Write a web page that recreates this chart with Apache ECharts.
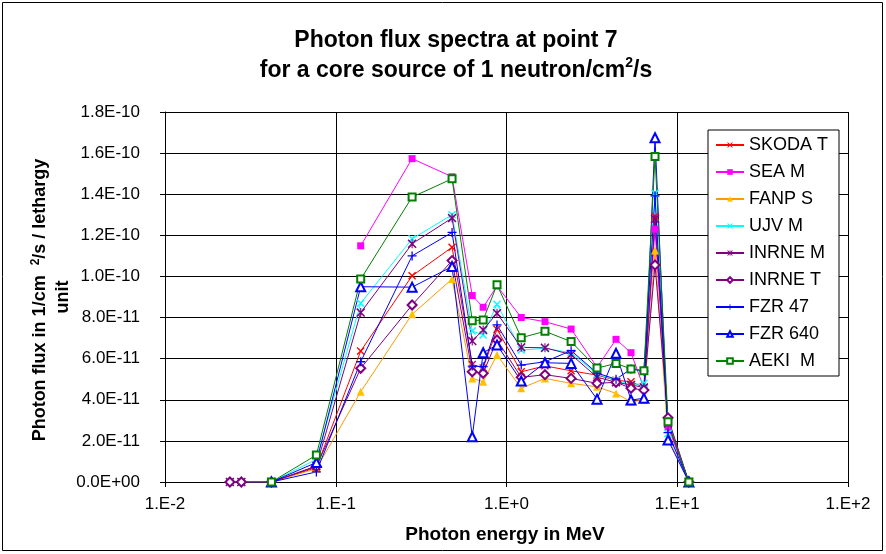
<!DOCTYPE html>
<html>
<head>
<meta charset="utf-8">
<script src="https://cdn.jsdelivr.net/npm/echarts@6/dist/echarts.min.js"></script>
<style>
  html, body { margin: 0; padding: 0; background: #fff; }
  #chart { width: 886px; height: 554px; }
</style>
</head>
<body>
<div id="chart"></div>
<script>
// photon energy (MeV) of each group point
const energy = [0.024, 0.028, 0.042, 0.077, 0.14, 0.28, 0.48, 0.63, 0.73, 0.88, 1.22, 1.68, 2.39, 3.39, 4.38, 5.36, 6.38, 7.41, 8.83, 11.7];
// flux values in units of 1e-11 (null = no point)
const skodaT = [null, null, 0, 0.7, 6.37, 10.03, 11.42, 5.72, 5.55, 7.43, 5.36, 5.65, 5.41, 5.2, 4.95, 4.88, 4.6, 12.92, 2.85, 0];
const seaM   = [null, null, null, null, 11.49, 15.73, 14.85, 9.07, 8.5, 9.54, 8.0, 7.8, 7.44, 5.58, 6.94, 6.29, 4.56, 12.3, 2.68, 0];
const fanpS  = [null, null, 0, 0.65, 4.39, 8.16, 9.87, 5.04, 4.88, 6.18, 4.56, 5.04, 4.8, 4.63, 4.31, 3.9, 3.99, 11.26, 2.12, 0];
const ujvM   = [0, 0, 0, 1.1, 8.7, 11.83, 13.0, 7.35, 7.15, 8.65, 6.42, 6.5, 6.29, 5.25, 4.95, 4.72, 4.8, 14.05, 2.36, 0];
const inrneM = [0, 0, 0, 0.78, 8.24, 11.59, 12.84, 6.86, 7.4, 8.21, 6.55, 6.53, 6.2, 5.1, 4.85, 4.72, 4.6, 12.79, 2.85, 0];
const inrneT = [0, 0, 0, 0.75, 5.53, 8.61, 10.77, 5.36, 5.29, 6.91, 5.09, 5.22, 5.04, 4.8, 4.85, 4.56, 4.47, 10.56, 3.12, 0];
const fzr47  = [null, null, 0, 0.49, 5.85, 11.0, 12.14, 5.64, 5.61, 7.64, 5.69, 5.85, 6.39, 5.3, 5.0, 5.5, 5.4, 13.92, 2.4, 0];
const fzr640 = [null, null, 0, 0.95, 9.5, 9.48, 10.48, 2.2, 6.29, 6.67, 4.91, 5.8, 5.77, 4.03, 6.26, 3.99, 4.07, 16.75, 2.04, 0];
const aekiM  = [null, null, 0, 1.31, 9.87, 13.86, 14.75, 7.85, 7.88, 9.6, 7.02, 7.33, 6.83, 5.54, 5.77, 5.5, 5.41, 15.84, 2.93, 0];
const UNIT = 1e-11;

const xTicks = ['1.E-2', '1.E-1', '1.E+0', '1.E+1', '1.E+2'];

// marker shapes
const xMark = 'path://M0,1.2L1.2,0L5,3.8L8.8,0L10,1.2L6.2,5L10,8.8L8.8,10L5,6.2L1.2,10L0,8.8L3.8,5Z';
const plusMark = 'path://M4.3,0H5.7V4.3H10V5.7H5.7V10H4.3V5.7H0V4.3H4.3Z';
const starMark = 'path://M0,1.2L1.2,0L4.4,3.2V0H5.6V3.2L8.8,0L10,1.2L6.2,5L10,8.8L8.8,10L5.6,6.8V10H4.4V6.8L1.2,10L0,8.8L3.8,5Z';

const seriesDefs = [
  { name: 'SKODA T', data: skodaT, color: '#FF0000', symbol: xMark, size: 8 },
  { name: 'SEA M', data: seaM, color: '#FF00FF', symbol: 'rect', size: 7 },
  { name: 'FANP S', data: fanpS, color: '#FF9900', fill: '#FFC000', symbol: 'triangle', size: 8 },
  { name: 'UJV M', data: ujvM, color: '#00FFFF', symbol: xMark, size: 8 },
  { name: 'INRNE M', data: inrneM, color: '#800080', symbol: starMark, size: 9 },
  { name: 'INRNE T', data: inrneT, color: '#800080', symbol: 'emptyDiamond', size: 9 },
  { name: 'FZR 47', data: fzr47, color: '#0000FF', symbol: plusMark, size: 9 },
  { name: 'FZR 640', data: fzr640, color: '#0000FF', symbol: 'emptyTriangle', size: 9 },
  { name: 'AEKI  M', data: aekiM, color: '#008000', symbol: 'emptyRect', size: 7 }
];

const series = seriesDefs.map(s => {
  const pts = [];
  s.data.forEach((v, i) => {
    if (v !== null) pts.push([energy[i], v * UNIT]);
  });
  return {
    name: s.name,
    type: 'line',
    data: pts,
    symbol: s.symbol,
    symbolSize: s.size,
    showAllSymbol: true,
    lineStyle: { color: s.color, width: 1 },
    itemStyle: { color: s.fill || s.color, borderColor: s.color, borderWidth: s.symbol.indexOf('empty') === 0 ? 1 : 0 },
    emphasis: { disabled: true }
  };
});

const chart = echarts.init(document.getElementById('chart'), null, { renderer: 'canvas' });
const font = 'Liberation Sans, Arial, sans-serif';

chart.setOption({
  animation: false,
  backgroundColor: '#fff',
  title: {
    text: '{t|Photon flux spectra at point 7}\n{t|for a core source of 1 neutron/cm}{s|2}{t|/s}',
    left: 451,
    top: 21,
    textAlign: 'center',
    textStyle: {
      rich: {
        t: { fontFamily: font, fontWeight: 'bold', fontSize: 23, color: '#000', lineHeight: 30 },
        s: { fontFamily: font, fontWeight: 'bold', fontSize: 14, color: '#000', verticalAlign: 'top', lineHeight: 30, padding: [0, 0, 10, 0] }
      }
    }
  },
  graphic: [
    {
      type: 'rect',
      shape: { x: 2.5, y: 2.5, width: 880, height: 548 },
      style: { fill: null, stroke: '#000', lineWidth: 1 },
      silent: true
    },
    {
      type: 'text',
      x: 40, y: 300,
      rotation: Math.PI / 2,
      style: {
        text: '{t|Photon flux in 1/cm  }{s|2}{t|/s / lethargy}',
        align: 'center', verticalAlign: 'middle',
        rich: {
          t: { fontFamily: font, fontWeight: 'bold', fontSize: 18, fill: '#000' },
          s: { fontFamily: font, fontWeight: 'bold', fontSize: 12, fill: '#000', padding: [0, 0, 8, 0] }
        }
      }
    },
    {
      type: 'text',
      x: 63, y: 297,
      rotation: Math.PI / 2,
      style: {
        text: 'unit',
        align: 'center', verticalAlign: 'middle',
        font: 'bold 18px ' + font, fill: '#000'
      }
    },
    {
      type: 'text',
      x: 505, y: 535,
      style: {
        text: 'Photon energy in MeV',
        align: 'center', verticalAlign: 'middle',
        font: 'bold 19px ' + font, fill: '#000'
      }
    }
  ],
  legend: {
    orient: 'vertical',
    left: 708,
    top: 130,
    padding: [6, 11, 6, 7],
    itemGap: 9,
    itemWidth: 28,
    itemHeight: 7,
    backgroundColor: '#fff',
    borderColor: '#000',
    borderWidth: 1,
    borderRadius: 0,
    textStyle: { fontFamily: font, fontSize: 18, color: '#000', lineHeight: 18 },
    data: seriesDefs.map(s => s.name)
  },
  grid: { left: 165, right: 38, top: 112, bottom: 72, containLabel: false },
  xAxis: {
    type: 'log',
    logBase: 10,
    min: 0.01,
    max: 100,
    axisLine: { show: true, lineStyle: { color: '#000', width: 1 } },
    axisTick: { show: true, length: 5, lineStyle: { color: '#000' } },
    minorTick: { show: false },
    splitLine: { show: true, lineStyle: { color: '#000', width: 1 } },
    axisLabel: {
      margin: 14,
      fontFamily: font, fontSize: 17, color: '#000',
      formatter: v => xTicks[Math.round(Math.log10(v)) + 2]
    }
  },
  yAxis: {
    type: 'value',
    min: 0,
    max: 18 * UNIT,
    interval: 2 * UNIT,
    axisLine: { show: true, lineStyle: { color: '#000', width: 1 } },
    axisTick: { show: true, length: 5, lineStyle: { color: '#000' } },
    splitLine: { show: true, lineStyle: { color: '#000', width: 1 } },
    axisLabel: {
      margin: 25,
      fontFamily: font, fontSize: 17, color: '#000',
      formatter: v => (v === 0 ? '0.0E+00' : v.toExponential(1).toUpperCase())
    }
  },
  series: series
});
</script>
</body>
</html>
